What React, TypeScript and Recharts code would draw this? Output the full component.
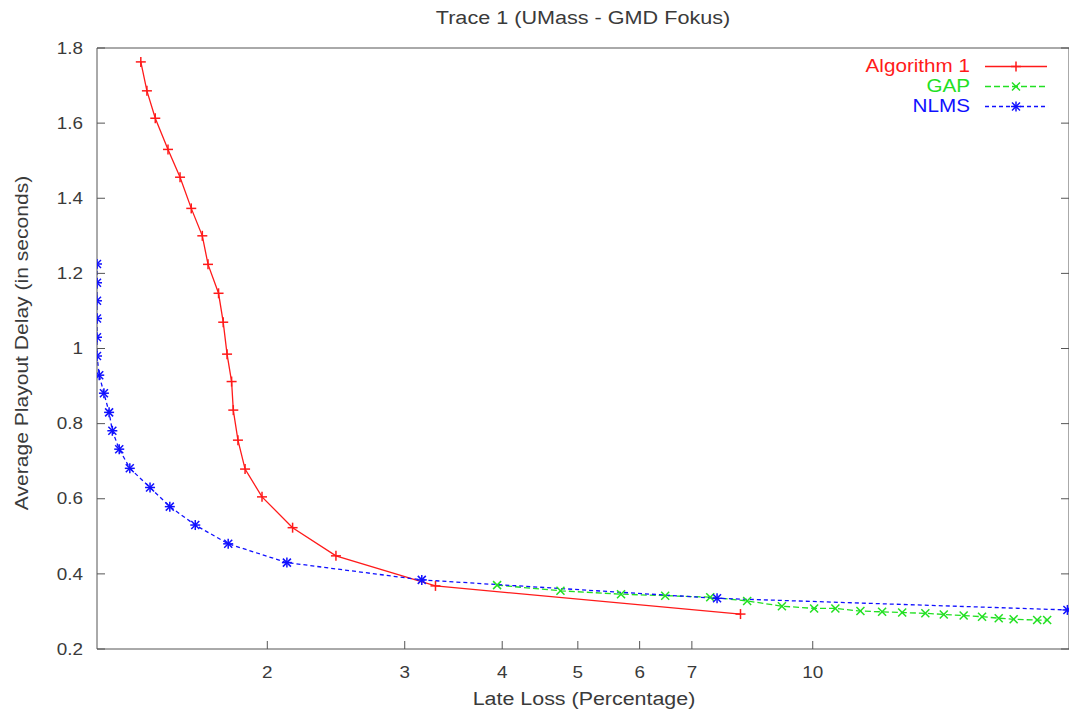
import { LineChart, Line, XAxis, YAxis, Legend } from "recharts";

// Algorithm 1 (red, solid, "+")
const algLoss = [1.377, 1.402, 1.437, 1.492, 1.546, 1.598, 1.651, 1.679, 1.732, 1.756, 1.776, 1.8, 1.809, 1.834, 1.873, 1.969, 2.155, 2.449, 3.285, 8.08];
const algDelay = [1.763, 1.686, 1.613, 1.53, 1.456, 1.373, 1.3, 1.224, 1.147, 1.07, 0.985, 0.912, 0.836, 0.756, 0.679, 0.605, 0.523, 0.448, 0.368, 0.293];

// GAP (green, dashed, "x")
const gapLoss = [3.94, 4.75, 5.68, 6.47, 7.39, 8.24, 9.13, 10.04, 10.69, 11.51, 12.27, 13.02, 13.94, 14.72, 15.61, 16.48, 17.31, 18.09, 19.39, 19.97];
const gapDelay = [0.37, 0.355, 0.346, 0.342, 0.338, 0.328, 0.314, 0.308, 0.308, 0.301, 0.299, 0.297, 0.295, 0.292, 0.289, 0.286, 0.282, 0.279, 0.277, 0.277];

// NLMS (blue, dashed, "*")
const nlmsLoss = [1.21, 1.21, 1.21, 1.21, 1.21, 1.21, 1.218, 1.235, 1.254, 1.266, 1.292, 1.333, 1.415, 1.5, 1.617, 1.782, 2.119, 3.155, 7.54, 21.2];
const nlmsDelay = [1.225, 1.175, 1.127, 1.08, 1.03, 0.98, 0.929, 0.881, 0.83, 0.781, 0.732, 0.681, 0.63, 0.579, 0.53, 0.48, 0.43, 0.384, 0.335, 0.304];

const xTicks = [2, 3, 4, 5, 6, 7, 10];
const yTicks = [0.2, 0.4, 0.6, 0.8, 1, 1.2, 1.4, 1.6, 1.8];

const toPoints = (xs: number[], ys: number[]) => xs.map((x, i) => ({ x, y: ys[i] }));

const FONT = "'Liberation Sans', Arial, sans-serif";
const TEXT = "#3a3a3a";
const AXIS = "#555";

const RED = "#ff1a1a";
const GREEN = "#22e022";
const BLUE = "#1010ff";

// the original text is a bit wider than Liberation Sans, stretch it sideways
const STRETCH = 1.18;

type Shape = "plus" | "cross" | "star";

const marker = (shape: Shape, cx: number, cy: number, color: string, key?: any) => {
    const r = 5;
    const d = 4;
    return (
        <g key={key} stroke={color} strokeWidth={1.5}>
            {shape !== "cross" && (
                <>
                    <line x1={cx - r} y1={cy} x2={cx + r} y2={cy} />
                    <line x1={cx} y1={cy - r} x2={cx} y2={cy + r} />
                </>
            )}
            {shape !== "plus" && (
                <>
                    <line x1={cx - d} y1={cy - d} x2={cx + d} y2={cy + d} />
                    <line x1={cx - d} y1={cy + d} x2={cx + d} y2={cy - d} />
                </>
            )}
        </g>
    );
};

const series = [
    { name: "Algorithm 1", color: RED, shape: "plus" as Shape, dash: undefined, data: toPoints(algLoss, algDelay) },
    { name: "GAP", color: GREEN, shape: "cross" as Shape, dash: "6 3", data: toPoints(gapLoss, gapDelay) },
    { name: "NLMS", color: BLUE, shape: "star" as Shape, dash: "4 3", data: toPoints(nlmsLoss, nlmsDelay) },
];

const fmtY = (v: number) => String(Number(v.toFixed(1)));

const BottomTick = (props: any) => {
    const { x, y, payload } = props;
    return (
        <g>
            <line x1={x} y1={y} x2={x} y2={y - 8} stroke={AXIS} strokeWidth={1} />
            <text
                transform={`translate(${x},${y + 29}) scale(${STRETCH},1)`}
                textAnchor="middle"
                fill={TEXT}
                fontSize={16}
                fontFamily={FONT}
            >
                {payload.value}
            </text>
        </g>
    );
};

const TopTick = (props: any) => {
    const { x, y } = props;
    return <line x1={x} y1={y} x2={x} y2={y + 8} stroke={AXIS} strokeWidth={1} />;
};

const LeftTick = (props: any) => {
    const { x, y, payload } = props;
    return (
        <g>
            <line x1={x} y1={y} x2={x + 8} y2={y} stroke={AXIS} strokeWidth={1} />
            <text
                transform={`translate(${x - 14},${y + 5.7}) scale(${STRETCH},1)`}
                textAnchor="end"
                fill={TEXT}
                fontSize={16}
                fontFamily={FONT}
            >
                {fmtY(payload.value)}
            </text>
        </g>
    );
};

const RightTick = (props: any) => {
    const { x, y } = props;
    return <line x1={x} y1={y} x2={x - 8} y2={y} stroke={AXIS} strokeWidth={1} />;
};

const LegendBox = () => (
    <div style={{ fontFamily: FONT }}>
        {series.map((s) => (
            <div key={s.name} style={{ display: "flex", alignItems: "center", height: 19.75 }}>
                <span
                    style={{
                        display: "inline-block",
                        width: 150,
                        textAlign: "right",
                        color: s.color,
                        fontSize: 17.5,
                        lineHeight: "19px",
                        transform: `scaleX(${STRETCH})`,
                        transformOrigin: "right center",
                    }}
                >
                    {s.name}
                </span>
                <svg width={62} height={19} style={{ marginLeft: 15 }}>
                    <line x1={0} y1={9.5} x2={62} y2={9.5} stroke={s.color} strokeWidth={1.3} strokeDasharray={s.dash} />
                    {marker(s.shape, 31, 9.5, s.color)}
                </svg>
            </div>
        ))}
    </div>
);

const labelStyle = {
    position: "absolute" as const,
    whiteSpace: "nowrap" as const,
    fontSize: 18,
    lineHeight: "22px",
    color: TEXT,
};

export default function App() {
    return (
        <div
            style={{
                position: "absolute",
                left: 0,
                top: 0,
                width: 1069,
                height: 715,
                overflow: "hidden",
                background: "#fff",
                fontFamily: FONT,
            }}
        >
            <div style={{ ...labelStyle, left: 583, top: 7, transform: `translateX(-50%) scaleX(1.2)` }}>
                Trace 1 (UMass - GMD Fokus)
            </div>
            <div
                style={{
                    ...labelStyle,
                    left: 22,
                    top: 343,
                    transform: `translate(-50%, -50%) rotate(-90deg) scaleX(1.17)`,
                }}
            >
                Average Playout Delay (in seconds)
            </div>
            <div style={{ ...labelStyle, left: 584, top: 688, transform: `translateX(-50%) scaleX(1.19)` }}>
                Late Loss (Percentage)
            </div>
            <LineChart width={1080} height={715} margin={{ top: 0, right: 0, bottom: 0, left: 0 }}>
                <XAxis
                    xAxisId="b"
                    dataKey="x"
                    type="number"
                    scale="log"
                    domain={[1.21, 21.3]}
                    allowDataOverflow
                    ticks={xTicks}
                    height={66}
                    tickSize={0}
                    tickMargin={0}
                    tickLine={false}
                    axisLine={{ stroke: AXIS }}
                    tick={<BottomTick />}
                    interval={0}
                />
                <XAxis
                    xAxisId="t"
                    orientation="top"
                    type="number"
                    scale="log"
                    domain={[1.21, 21.3]}
                    allowDataOverflow
                    ticks={xTicks}
                    height={48}
                    tickSize={0}
                    tickMargin={0}
                    tickLine={false}
                    axisLine={{ stroke: AXIS }}
                    tick={<TopTick />}
                    interval={0}
                />
                <YAxis
                    yAxisId="l"
                    type="number"
                    domain={[0.2, 1.8]}
                    allowDataOverflow
                    ticks={yTicks}
                    width={97}
                    tickSize={0}
                    tickMargin={0}
                    tickLine={false}
                    axisLine={{ stroke: AXIS }}
                    tick={<LeftTick />}
                    interval={0}
                />
                <YAxis
                    yAxisId="r"
                    orientation="right"
                    type="number"
                    domain={[0.2, 1.8]}
                    allowDataOverflow
                    ticks={yTicks}
                    width={11}
                    tickSize={0}
                    tickMargin={0}
                    tickLine={false}
                    axisLine={{ stroke: AXIS }}
                    tick={<RightTick />}
                    interval={0}
                />
                <Legend
                    layout="vertical"
                    align="center"
                    verticalAlign="middle"
                    content={<LegendBox />}
                    wrapperStyle={{ position: "absolute", left: 820, top: 57, width: 240, height: 60 }}
                />
                {series.map((s) => (
                    <Line
                        key={s.name}
                        xAxisId="b"
                        yAxisId="l"
                        data={s.data}
                        dataKey="y"
                        name={s.name}
                        stroke={s.color}
                        strokeWidth={1.3}
                        strokeDasharray={s.dash}
                        type="linear"
                        isAnimationActive={false}
                        dot={(p: any) => marker(s.shape, p.cx, p.cy, s.color, `${s.name}-${p.index}`)}
                        activeDot={false}
                    />
                ))}
            </LineChart>
        </div>
    );
}
